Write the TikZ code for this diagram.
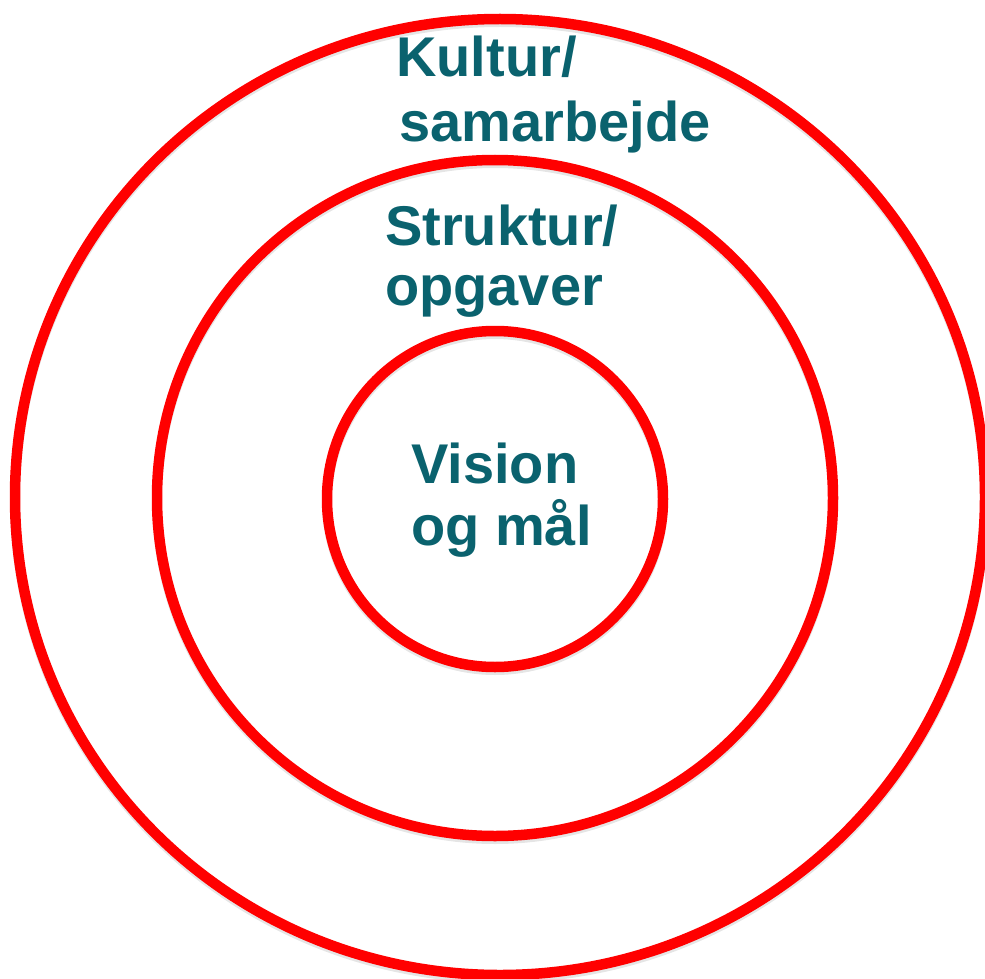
\documentclass[tikz,border=0pt]{standalone}
\usepackage{fontspec}
\setmainfont{Liberation Sans}
\definecolor{ringred}{RGB}{255,0,0}
\definecolor{labelteal}{RGB}{10,98,110}
\begin{document}
\begin{tikzpicture}[x=1pt,y=-1pt,
  ring/.style={draw=ringred,line width=10.5pt},
  ringshadow/.style={draw=black!10,line width=10pt},
  lbl/.style={text=labelteal,font=\fontsize{56}{60}\selectfont\bfseries,inner sep=0pt,anchor=base west}]
\useasboundingbox (0,0) rectangle (985,979);
% soft shadows
\draw[ringshadow] (500,500) circle [x radius=485, y radius=478];
\draw[ringshadow] (495,501) circle [radius=338];
\draw[ringshadow] (495,502) circle [radius=168];
% rings
\draw[ring] (500,497) circle [x radius=485, y radius=478];
\draw[ring] (495,498) circle [radius=338];
\draw[ring] (495,499) circle [radius=168];
% labels
\node[lbl] (kultur) at (396,77) {Kultur/};
\node[lbl] (samarbejde) at (399,142) {samarbejde};
\node[lbl] (struktur) at (385,245) {Struktur/};
\node[lbl] (opgaver) at (385,305) {opgaver};
\node[lbl] (vision) at (411,483) {Vision};
\node[lbl] (ogmaal) at (411,545) {og mål};
\end{tikzpicture}
\end{document}
